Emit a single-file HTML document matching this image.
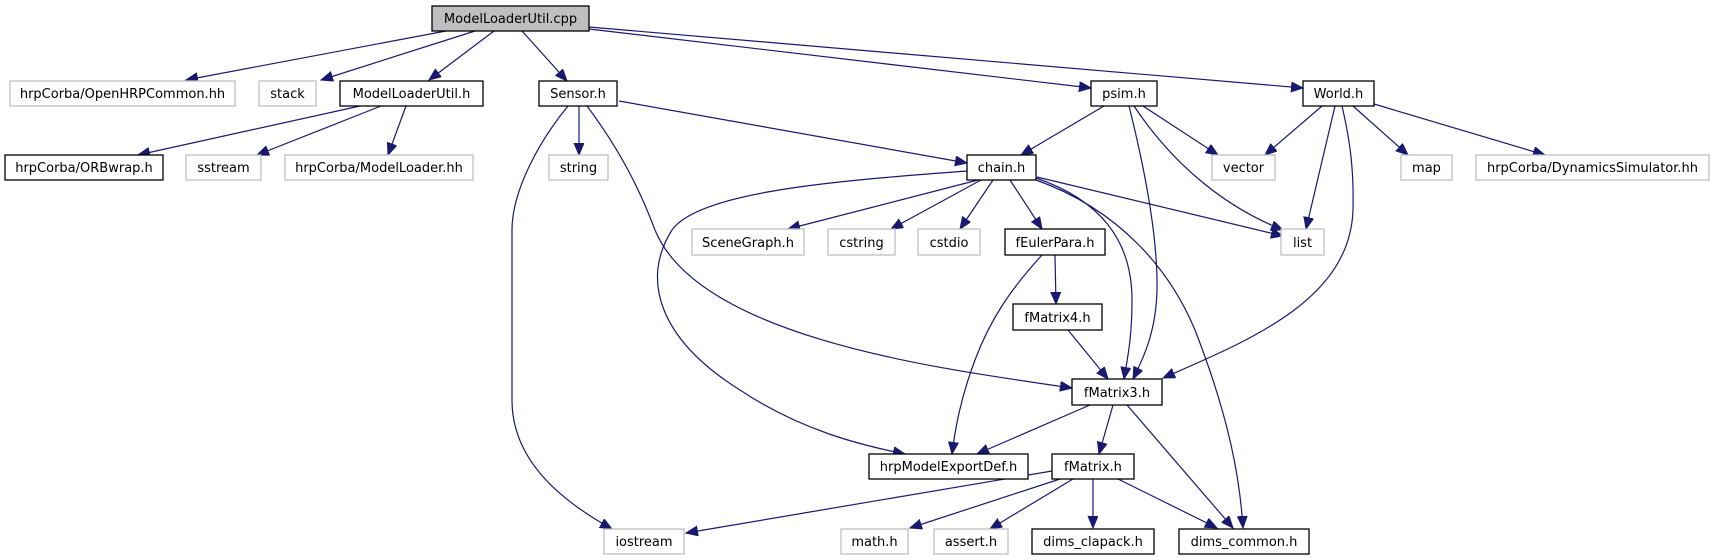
<!DOCTYPE html>
<html><head><meta charset="utf-8"><style>
html,body{margin:0;padding:0;background:#fff;}
svg{display:block;}
text{font-family:"DejaVu Sans","Liberation Sans",sans-serif;font-size:13px;fill:#000;text-anchor:middle;}
.e{fill:none;stroke:#191970;stroke-width:1.2;marker-end:url(#a);}
.b{fill:#fff;stroke:#000;stroke-width:1.3;}
.g{fill:#fff;stroke:#bfbfbf;stroke-width:1.3;}
</style></head><body>
<svg width="1713" height="560" viewBox="0 0 1713 560" xmlns="http://www.w3.org/2000/svg">
<defs><marker id="a" markerUnits="userSpaceOnUse" markerWidth="14" markerHeight="12" refX="12" refY="5" orient="auto"><path d="M0,0 L12,5 L0,10 z" fill="#191970" stroke="#191970"/></marker></defs>
<path class="e" d="M446,31 L186,80"/>
<path class="e" d="M475,31 L321,80"/>
<path class="e" d="M494,31 L429,80"/>
<path class="e" d="M522,31 L567,81"/>
<path class="e" d="M589,29 L1091,88"/>
<path class="e" d="M589,27 L1303,88"/>
<path class="e" d="M360,106 L138,155"/>
<path class="e" d="M381,106 L257,155"/>
<path class="e" d="M406,106 L388,155"/>
<path class="e" d="M579,106 L579,155"/>
<path class="e" d="M619,101 L967,163"/>
<path class="e" d="M568,106 C540,140 512,190 512,230 L512,400 C512,460 560,500 612,529"/>
<path class="e" d="M587,106 C620,150 640,190 655,230 C700,340 950,370 1072,388"/>
<path class="e" d="M1104,106 L1021,155"/>
<path class="e" d="M1129,106 C1140,150 1158,230 1157,290 C1156,330 1145,355 1133,379"/>
<path class="e" d="M1036,178 C1100,200 1132,240 1132,300 C1132,340 1127,360 1124,379"/>
<path class="e" d="M1143,106 L1218,155"/>
<path class="e" d="M1134,106 C1170,160 1220,205 1283,230"/>
<path class="e" d="M1322,106 L1265,155"/>
<path class="e" d="M1335,106 L1306,229"/>
<path class="e" d="M1342,106 C1350,140 1354,170 1353,210 C1350,300 1250,340 1163,378"/>
<path class="e" d="M1353,106 L1408,155"/>
<path class="e" d="M1374,104 L1545,155"/>
<path class="e" d="M967,171 C850,180 700,190 672,230 C640,280 660,340 740,390 C800,430 860,445 905,454"/>
<path class="e" d="M978,180 L788,229"/>
<path class="e" d="M981,180 L891,229"/>
<path class="e" d="M993,180 L960,229"/>
<path class="e" d="M1010,180 L1042,229"/>
<path class="e" d="M1037,177 L1283,236"/>
<path class="e" d="M1036,180 C1120,210 1170,270 1195,330 C1230,420 1240,480 1243,528"/>
<path class="e" d="M1055,255 L1056,304"/>
<path class="e" d="M1042,255 C1010,290 990,320 975,360 C960,400 955,430 952,454"/>
<path class="e" d="M1068,330 L1108,379"/>
<path class="e" d="M1090,405 L977,454"/>
<path class="e" d="M1113,405 L1099,454"/>
<path class="e" d="M1127,405 L1233,528"/>
<path class="e" d="M1052,471 L686,533"/>
<path class="e" d="M1060,479 L910,528"/>
<path class="e" d="M1073,479 L990,529"/>
<path class="e" d="M1093,479 L1093,528"/>
<path class="e" d="M1118,479 L1217,528"/>
<rect x="432" y="6" width="157" height="25" fill="#bfbfbf" stroke="#000" stroke-width="1.3"/><text x="510.5" y="23">ModelLoaderUtil.cpp</text>
<rect class="g" x="10" y="81" width="225" height="25"/><text x="122.5" y="98">hrpCorba/OpenHRPCommon.hh</text>
<rect class="g" x="259" y="81" width="57" height="25"/><text x="287.5" y="98">stack</text>
<rect class="b" x="340" y="81" width="143" height="25"/><text x="411.5" y="98">ModelLoaderUtil.h</text>
<rect class="b" x="539" y="81" width="78" height="25"/><text x="578" y="98">Sensor.h</text>
<rect class="b" x="1091" y="81" width="66" height="25"/><text x="1124" y="98">psim.h</text>
<rect class="b" x="1303" y="81" width="71" height="25"/><text x="1338.5" y="98">World.h</text>
<rect class="b" x="5" y="155" width="158" height="25"/><text x="84" y="172">hrpCorba/ORBwrap.h</text>
<rect class="g" x="186" y="155" width="75" height="25"/><text x="223.5" y="172">sstream</text>
<rect class="g" x="285" y="155" width="188" height="25"/><text x="379" y="172">hrpCorba/ModelLoader.hh</text>
<rect class="g" x="549" y="155" width="59" height="25"/><text x="578.5" y="172">string</text>
<rect class="b" x="967" y="155" width="69" height="25"/><text x="1001.5" y="172">chain.h</text>
<rect class="g" x="1212" y="155" width="63" height="25"/><text x="1243.5" y="172">vector</text>
<rect class="g" x="1401" y="155" width="51" height="25"/><text x="1426.5" y="172">map</text>
<rect class="g" x="1476" y="155" width="233" height="25"/><text x="1592.5" y="172">hrpCorba/DynamicsSimulator.hh</text>
<rect class="g" x="692" y="229" width="112" height="26"/><text x="748" y="247">SceneGraph.h</text>
<rect class="g" x="828" y="229" width="67" height="26"/><text x="861.5" y="247">cstring</text>
<rect class="g" x="918" y="229" width="62" height="26"/><text x="949" y="247">cstdio</text>
<rect class="b" x="1005" y="229" width="100" height="26"/><text x="1055" y="247">fEulerPara.h</text>
<rect class="g" x="1281" y="229" width="43" height="26"/><text x="1302.5" y="247">list</text>
<rect class="b" x="1013" y="304" width="89" height="26"/><text x="1057.5" y="322">fMatrix4.h</text>
<rect class="b" x="1072" y="379" width="90" height="26"/><text x="1117" y="397">fMatrix3.h</text>
<rect class="b" x="869" y="454" width="159" height="25"/><text x="948.5" y="471">hrpModelExportDef.h</text>
<rect class="b" x="1052" y="454" width="82" height="25"/><text x="1093" y="471">fMatrix.h</text>
<rect class="g" x="604" y="529" width="80" height="25"/><text x="644" y="546">iostream</text>
<rect class="g" x="841" y="529" width="67" height="25"/><text x="874.5" y="546">math.h</text>
<rect class="g" x="934" y="529" width="74" height="25"/><text x="971" y="546">assert.h</text>
<rect class="b" x="1032" y="529" width="122" height="25"/><text x="1093" y="546">dims_clapack.h</text>
<rect class="b" x="1179" y="529" width="130" height="25"/><text x="1244" y="546">dims_common.h</text>
</svg>
</body></html>
